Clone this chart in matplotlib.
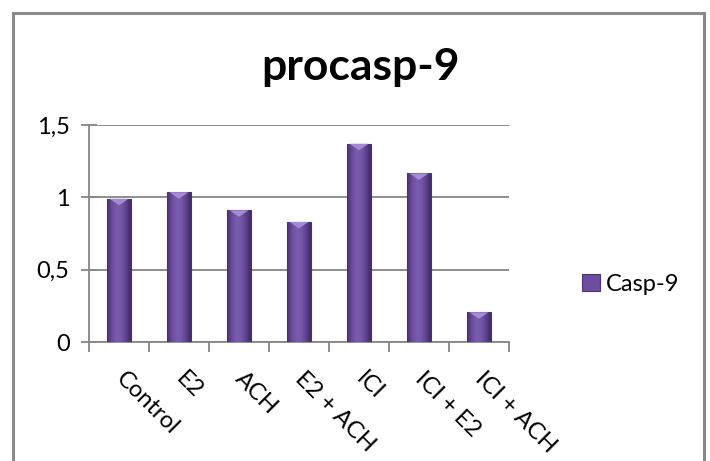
import matplotlib
matplotlib.use("Agg")
import matplotlib.pyplot as plt
from matplotlib.patches import Rectangle, Polygon
from matplotlib.colors import LinearSegmentedColormap
import numpy as np

categories = ["Control", "E2", "ACH", "E2 + ACH", "ICI", "ICI + E2", "ICI + ACH"]
values = [0.99, 1.035, 0.91, 0.83, 1.37, 1.165, 0.205]
series_name = "Casp-9"
title = "procasp-9"
yticks = [0, 0.5, 1.0, 1.5]
yticklabels = ["0", "0,5", "1", "1,5"]

plt.rcParams['font.family'] = ['Lato', 'DejaVu Sans']

fig = plt.figure(figsize=(7.1, 4.61), dpi=100)
ax = fig.add_axes([89/710, 1-342/461, (509-89)/710, (342-125)/461])

grey = "#868686"
x = np.arange(len(categories))
bar_w = 0.39
bars = ax.bar(x, values, width=bar_w, color="#6C4D9E", edgecolor="#4A3275",
              linewidth=0.8, label=series_name, zorder=3)

# bevel-like horizontal gradient inside each bar
cmap = LinearSegmentedColormap.from_list(
    "bev", ["#47306E", "#6A4B9C", "#7A5BAE", "#7556A8", "#5E4290", "#3F2A62"])
grad = np.linspace(0, 1, 64).reshape(1, -1)
for b in bars:
    bx, by, bw, bh = b.get_x(), b.get_y(), b.get_width(), b.get_height()
    im = ax.imshow(grad, cmap=cmap, aspect='auto', extent=[bx, bx + bw, by, by + bh],
                   zorder=4, interpolation='bicubic')
    im.set_clip_path(b)
    # lighter top facet
    tri = Polygon([[bx + bw * 0.1, by + bh], [bx + bw * 0.9, by + bh],
                   [bx + bw * 0.5, by + bh - 0.045]], closed=True,
                  facecolor="#A58BD6", edgecolor='none', zorder=5)
    ax.add_patch(tri)

ax.set_xlim(-0.5, len(categories) - 0.5)
ax.set_ylim(0, 1.5)
ax.set_yticks(yticks)
ax.set_yticklabels(yticklabels, fontsize=17)
ax.yaxis.grid(True, color=grey, linewidth=1.3, zorder=0)
ax.set_axisbelow(True)

ax.set_xticks(x)
ax.set_xticklabels(categories, fontsize=17, rotation=-45, ha='left',
                   va='center', rotation_mode='anchor')
ax.set_xticks(np.arange(len(categories) + 1) - 0.5, minor=True)
ax.tick_params(axis='x', which='major', length=0, pad=24)
ax.tick_params(axis='x', which='minor', length=7, width=1.3, color=grey, direction='out')
ax.tick_params(axis='y', which='major', length=12, width=1.3, color=grey,
               direction='inout', pad=8)

for s in ['top', 'right']:
    ax.spines[s].set_visible(False)
for s in ['left', 'bottom']:
    ax.spines[s].set_color(grey)
    ax.spines[s].set_linewidth(1.3)

fig.text(360/710, (461-67)/461, title, fontsize=32, fontweight='bold',
         ha='center', va='center')

handle = Rectangle((0, 0), 1, 1, facecolor="#6C4D9E", edgecolor="#4A3275", linewidth=0.8)
leg = fig.legend(handles=[handle], labels=[series_name], loc='center left',
                 bbox_to_anchor=(582/710, 1-284/461), frameon=False,
                 fontsize=17, handlelength=0.75, handleheight=0.75,
                 handletextpad=0.25, borderpad=0, borderaxespad=0)

fig.patches.append(Rectangle((13/710, -0.1), (704-13)/710, 1.1 - 13/461,
                             transform=fig.transFigure, fill=False,
                             edgecolor="#8A8A8A", linewidth=2.2))

fig.savefig("out.png", dpi=100)
